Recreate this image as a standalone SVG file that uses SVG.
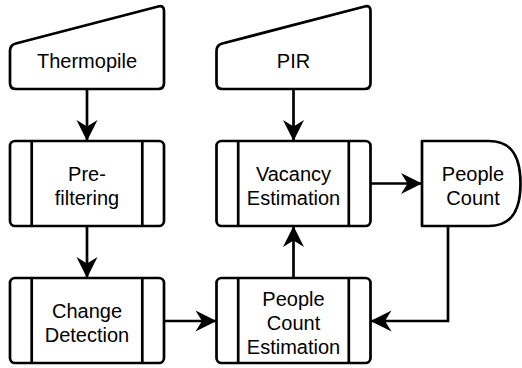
<svg xmlns="http://www.w3.org/2000/svg" width="522" height="368" viewBox="0 0 522 368">
<style>
.s{fill:#fff;stroke:#000;stroke-width:2.7;stroke-linejoin:round}
.l{fill:none;stroke:#000;stroke-width:2.7}
.c{fill:none;stroke:#000;stroke-width:2.7;marker-end:url(#ah)}
text{font-family:"Liberation Sans",Arial,Helvetica,sans-serif;font-size:20px;fill:#000;text-anchor:middle}
</style>
<defs>
<marker id="ah" markerUnits="userSpaceOnUse" markerWidth="24" markerHeight="24" viewBox="-22 -12 24 24" refX="0" refY="0" orient="auto">
<path d="M0,0 L-21,-10.5 L-14.5,0 L-21,10.5 Z" fill="#000"/>
</marker>
</defs>
<g id="connectors">
<line class="c" x1="87" y1="89" x2="87" y2="141"/>
<line class="c" x1="87" y1="226" x2="87" y2="278"/>
<line class="c" x1="164" y1="321" x2="216.5" y2="321"/>
<line class="c" x1="293.5" y1="278" x2="293.5" y2="226"/>
<line class="c" x1="293.5" y1="89" x2="293.5" y2="141"/>
<line class="c" x1="370.5" y1="183.5" x2="422" y2="183.5"/>
<polyline class="c" points="448,226 448,321 370.5,321"/>
</g>
<g id="thermopile">
<path class="s" d="M10,51 Q10,45 15.8,43.5 L158.2,6.5 Q164,5 164,11 L164,83 Q164,89 158,89 L16,89 Q10,89 10,83 Z"/>
<text x="87" y="68">Thermopile</text>
</g>
<g id="pir">
<path class="s" d="M216.5,51 Q216.5,45 222.3,43.5 L364.7,6.5 Q370.5,5 370.5,11 L370.5,83 Q370.5,89 364.5,89 L222.5,89 Q216.5,89 216.5,83 Z"/>
<text x="293.5" y="68">PIR</text>
</g>
<g id="prefiltering">
<rect class="s" x="10" y="141" width="154" height="85" rx="5"/>
<line class="l" x1="31.7" y1="141" x2="31.7" y2="226"/>
<line class="l" x1="142.3" y1="141" x2="142.3" y2="226"/>
<text x="87" y="181">Pre-</text>
<text x="87" y="205">filtering</text>
</g>
<g id="changedetection">
<rect class="s" x="10" y="278" width="154" height="85" rx="5"/>
<line class="l" x1="31.7" y1="278" x2="31.7" y2="363"/>
<line class="l" x1="142.3" y1="278" x2="142.3" y2="363"/>
<text x="87" y="318">Change</text>
<text x="87" y="342">Detection</text>
</g>
<g id="vacancy">
<rect class="s" x="216.5" y="141" width="154" height="85" rx="5"/>
<line class="l" x1="238.2" y1="141" x2="238.2" y2="226"/>
<line class="l" x1="348.8" y1="141" x2="348.8" y2="226"/>
<text x="293.5" y="181">Vacancy</text>
<text x="293.5" y="205">Estimation</text>
</g>
<g id="pce">
<rect class="s" x="216.5" y="278" width="154" height="85" rx="5"/>
<line class="l" x1="238.2" y1="278" x2="238.2" y2="363"/>
<line class="l" x1="348.8" y1="278" x2="348.8" y2="363"/>
<text x="293.5" y="306">People</text>
<text x="293.5" y="330">Count</text>
<text x="293.5" y="354">Estimation</text>
</g>
<g id="peoplecount">
<path class="s" d="M422,141 L489,141 C514,141 520.5,160 520.5,183.5 C520.5,207 514,226 489,226 L422,226 Z"/>
<text x="473" y="181">People</text>
<text x="473" y="205">Count</text>
</g>
</svg>
